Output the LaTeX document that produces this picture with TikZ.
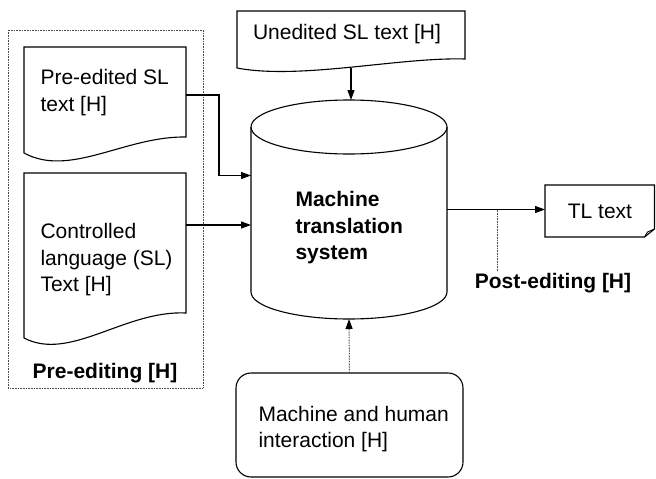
\documentclass[tikz,border=0pt]{standalone}
\usepackage{fontspec}
\setmainfont{Liberation Sans}
\usetikzlibrary{arrows.meta}
\begin{document}
\begin{tikzpicture}[x=1pt,y=-1pt,
  line width=1.1pt,
  font=\fontsize{21}{26.5}\selectfont,
  shapebox/.style={draw=none, inner sep=0, outer sep=0, anchor=north west},
  txt/.style={align=left, inner sep=0, anchor=west},
  bold/.style={font=\fontsize{21}{26.5}\selectfont\bfseries, inner sep=0},
  arr/.style={-{Triangle[length=10pt,width=7pt,black]}},
  dots/.style={dash pattern=on 0.8pt off 0.8pt, line width=1pt, draw=black!70},
]
\useasboundingbox (0,0) rectangle (656,479);

% frames of the shapes
\node[shapebox, minimum width=195pt, minimum height=358pt] (grp) at (8,30) {};
\node[shapebox, minimum width=162pt, minimum height=106pt] (pre) at (24,47) {};
\node[shapebox, minimum width=162pt, minimum height=165pt] (ctl) at (24,173) {};
\node[shapebox, minimum width=228pt, minimum height=57pt] (uned) at (237,11) {};
\node[shapebox, minimum width=196pt, minimum height=219pt] (mt) at (251,100) {};
\node[shapebox, minimum width=109.5pt, minimum height=52pt] (tl) at (545,185) {};
\node[shapebox, minimum width=227pt, minimum height=104pt, draw, rounded corners=15pt] (ia) at (236,373) {};

% pre-editing group
\draw[dots] (grp.north west) rectangle (grp.south east);

% documents with wavy bottoms
\draw (pre.north west) -- (pre.north east) -- (186,137)
  .. controls (125,136) and (70,178) .. (pre.south west) -- cycle;
\draw (ctl.north west) -- (ctl.north east) -- (186,313)
  .. controls (125,310) and (70,362) .. (ctl.south west) -- cycle;
\draw (uned.north west) -- (uned.north east) -- (465,59)
  .. controls (400,57) and (300,80) .. (uned.south west) -- cycle;

% machine translation cylinder
\draw ([yshift=-27pt]mt.north west) -- ([yshift=27pt]mt.south west)
  arc[start angle=180, end angle=360, x radius=98pt, y radius=27pt]
  -- ([yshift=-27pt]mt.north east);
\draw ([yshift=-27pt]mt.north) ellipse [x radius=98pt, y radius=27pt];

% target text note with curled corner
\draw (tl.north west) -- (tl.north east) -- ([yshift=8pt]tl.south east)
  -- ([xshift=-10pt]tl.south east) -- (tl.south west) -- cycle;
\draw[line width=0.9pt] ([xshift=-10pt]tl.south east) -- ([xshift=-7pt,yshift=5pt]tl.south east)
  -- ([yshift=8pt]tl.south east);

% texts
\node[txt] at (40,92.5) {Pre-edited SL\\text [H]};
\node[txt] at (40,260) {Controlled\\language (SL)\\Text [H]};
\node[inner sep=0] at (347,34) {Unedited SL text [H]};
\node[txt, font=\fontsize{21}{26.5}\selectfont\bfseries] at (295,228) {Machine\\translation\\system};
\node[inner sep=0] at (600,211) {TL text};
\node[txt] at (258,429) {Machine and human\\interaction [H]};
\node[bold] at (105,373) {Pre-editing [H]};
\node[bold] at (553,283) {Post-editing [H]};

% connectors
\draw[arr] ([yshift=5pt]pre.east) -- ++(33,0) |- ([yshift=34pt]mt.west);
\draw[arr] ([yshift=30.5pt]ctl.east) -- ([yshift=30.5pt]ctl.east -| mt.west);
\draw[arr] (uned.south) -- (uned.south |- mt.north);
\draw[arr] (mt.east) -- (mt.east -| tl.west);
\path (mt.east) -- (mt.east -| tl.west) coordinate[pos=0.52] (pe);
\draw[dots] (pe) -- ++(0,62);
\draw[dots, arr] (ia.north) -- (mt.south);
\end{tikzpicture}
\end{document}
